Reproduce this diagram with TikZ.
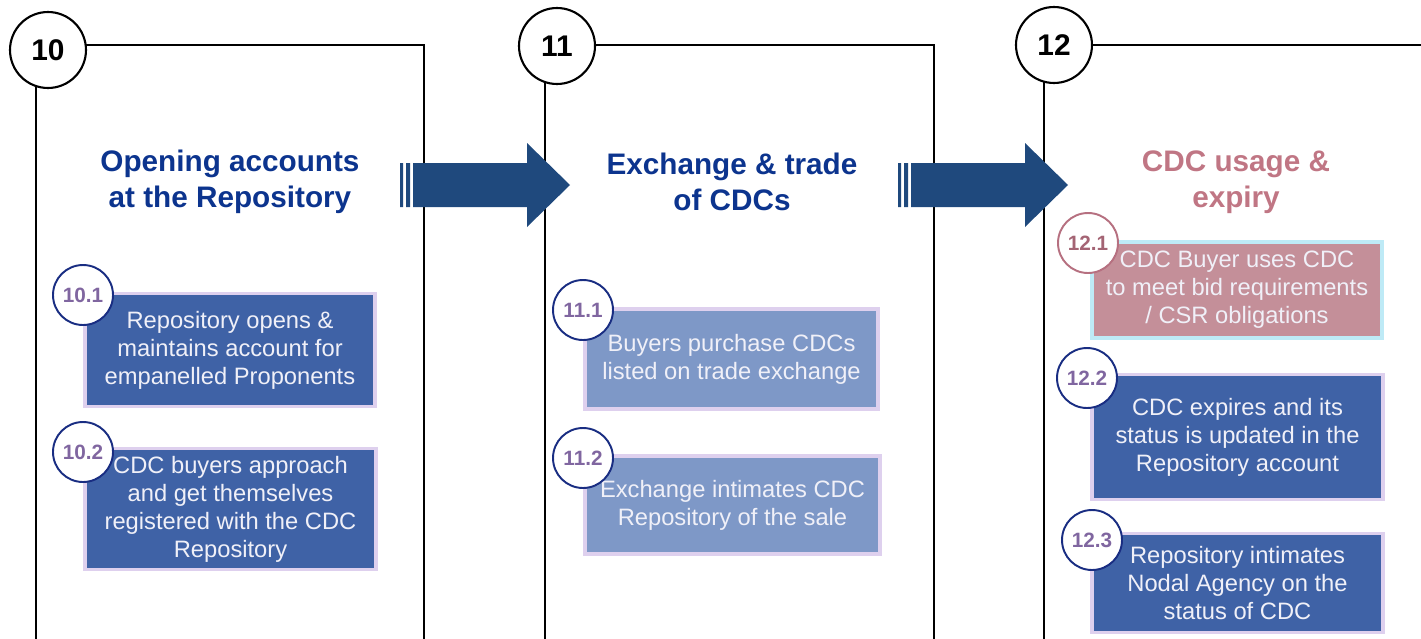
\documentclass[tikz,border=0pt]{standalone}
\usepackage{fontspec}
\setmainfont{Liberation Sans}
\definecolor{titleblue}{RGB}{12,52,142}
\definecolor{titlerose}{RGB}{192,118,132}
\definecolor{arrowblue}{RGB}{31,73,125}
\definecolor{darkbox}{RGB}{63,98,166}
\definecolor{lightbox}{RGB}{126,152,199}
\definecolor{rosebox}{RGB}{196,143,153}
\definecolor{glowlav}{RGB}{222,208,238}
\definecolor{glowcyan}{RGB}{190,234,246}
\definecolor{ringblue}{RGB}{25,45,130}
\definecolor{ringrose}{RGB}{182,112,128}
\definecolor{numpurple}{RGB}{128,102,160}
\definecolor{numrose}{RGB}{164,100,116}
\definecolor{subtext}{RGB}{240,240,248}

\begin{document}
\begin{tikzpicture}[x=0.02cm,y=-0.02cm]
  \tikzstyle{panel}=[draw=black,line width=1.2pt]
  \tikzstyle{bignum}=[circle,draw=black,line width=1.2pt,fill=white,minimum
  size=1.52cm,inner sep=0pt,font=\fontsize{17}{17}\selectfont\bfseries]
  \tikzstyle{title}=[align=center,font=\fontsize{16.9}{20.4}\selectfont\bfseries]
  \tikzstyle{subbox}=[rectangle,draw=glowlav,line width=2.2pt,text=subtext,
  align=center,inner sep=0pt,font=\fontsize{13.5}{15.9}\selectfont]
  \tikzstyle{subnum}=[circle,draw=ringblue,line width=1.1pt,fill=white,minimum
  size=1.2cm,inner sep=0pt,text=numpurple,font=\fontsize{11.8}{11.8}\selectfont\bfseries]
  \useasboundingbox (0,0) rectangle (1421,639);
  \clip (0,0) rectangle (1421,639);
  % panels
  \path[panel] (36,700) |- (424,45) -- (424,700);
  \path[panel] (545,700) |- (934,45) -- (934,700);
  \path[panel] (1044,700) |- (1460,45);
  % arrows
  \foreach \dx in {0,498} {
    \path[fill=arrowblue,shift={(\dx,0)}] (400,163) rectangle (403,207)
      (406,163) rectangle (410,207)
      (413,163) -- (527,163) -- (527,143) -- (570,185) -- (527,227)
      -- (527,207) -- (413,207) -- cycle;
  }
  % step boxes
  \node[subbox,fill=darkbox,minimum width=5.8cm,minimum height=2.26cm](b101) at (230,350)
    {Repository opens \&\\maintains account for\\empanelled Proponents};
  \node[subbox,fill=darkbox,minimum width=5.82cm,minimum height=2.42cm](b102) at (230.5,509)
    {CDC buyers approach\\and get themselves\\registered with the CDC\\Repository};
  \node[subbox,fill=lightbox,minimum width=5.86cm,minimum height=2.0cm](b111) at (731.5,359)
    {Buyers purchase CDCs\\listed on trade exchange};
  \node[subbox,fill=lightbox,minimum width=5.9cm,minimum height=1.96cm](b112) at (732.5,505)
    {Exchange intimates CDC\\Repository of the sale};
  \node[subbox,draw=glowcyan,fill=rosebox,minimum width=5.8cm,minimum height=1.92cm](b121) at (1237,290)
    {CDC Buyer uses CDC\\to meet bid requirements\\/ CSR obligations};
  \node[subbox,fill=darkbox,minimum width=5.82cm,minimum height=2.5cm](b122) at (1237.5,437)
    {CDC expires and its\\status is updated in the\\Repository account};
  \node[subbox,fill=darkbox,minimum width=5.82cm,minimum height=1.98cm](b123) at (1237.5,583)
    {Repository intimates\\Nodal Agency on the\\status of CDC};
  % step numbers
  \node[subnum](s101) at (83,295){10.1};
  \node[subnum](s102) at (83,452){10.2};
  \node[subnum](s111) at (583,310){11.1};
  \node[subnum](s112) at (583,458){11.2};
  \node[subnum,draw=ringrose,text=numrose](s121) at (1088,243){12.1};
  \node[subnum](s122) at (1087,378){12.2};
  \node[subnum](s123) at (1092,540){12.3};
  % stage numbers and titles
  \node[bignum](c10) at (48,50){10};
  \node[bignum](c11) at (557,46){11};
  \node[bignum](c12) at (1054,45){12};
  \node[title,text=titleblue](t10) at (230,182){Opening accounts\\at the Repository};
  \node[title,text=titleblue](t11) at (732,182){Exchange \& trade\\of CDCs};
  \node[title,text=titlerose](t12) at (1236,182){CDC usage \&\\expiry};
\end{tikzpicture}
\end{document}
